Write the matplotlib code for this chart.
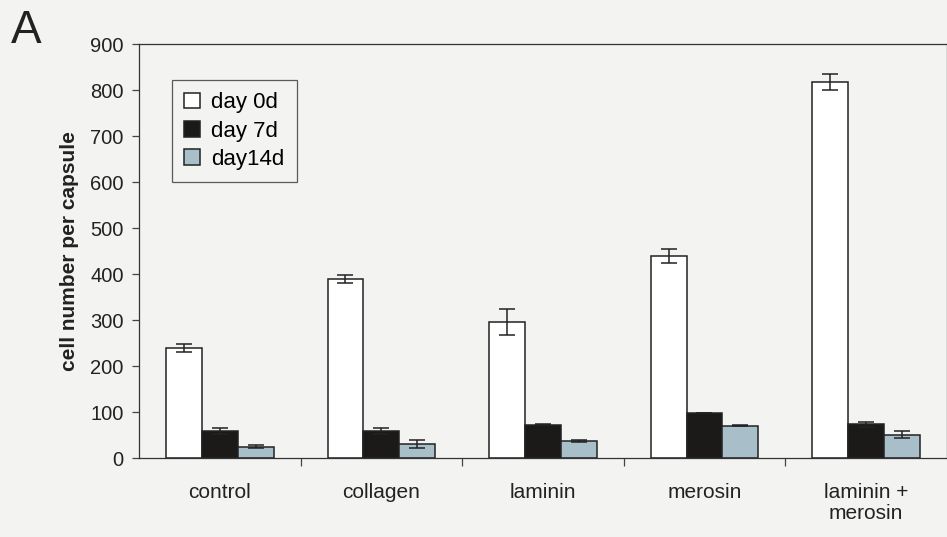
import numpy as np
import matplotlib
matplotlib.use('Agg')
from matplotlib import pyplot as plt

# cell counts per capsule for each coating, three time points
categories = ['control', 'collagen', 'laminin', 'merosin', 'laminin +\nmerosin']
day0 = [239, 389, 296, 439, 817]
day0_err = [9, 9, 28, 15, 17]
day7 = [59, 59, 72, 97, 73]
day7_err = [6, 6, 1, 0, 5]
day14 = [25, 30, 37, 70, 51]
day14_err = [3, 9, 2, 1, 8]
series_labels = ['day 0d', 'day 7d', 'day14d']

BG = '#f3f3f1'
plt.rcParams['font.family'] = ['Liberation Sans', 'DejaVu Sans']

fig = plt.figure(figsize=(9.47, 5.37), dpi=100, facecolor=BG)
ax = fig.add_axes([0.1468, 0.1471, 0.853, 0.7709], facecolor=BG)

x = np.arange(len(categories))
width = 0.222
colors = ['white', '#1c1a18', '#a8bfca']
for k, (vals, errs) in enumerate([(day0, day0_err), (day7, day7_err), (day14, day14_err)]):
    pos = x + (k - 1) * width
    ax.bar(pos, vals, width, color=colors[k], edgecolor='#222222', linewidth=1.1,
           label=series_labels[k], zorder=2)
    ax.errorbar(pos, vals, yerr=errs, fmt='none', ecolor='#222222', elinewidth=1.1,
                capsize=6, capthick=1.1, zorder=3)

ax.set_xlim(-0.5, len(categories) - 0.5)
ax.set_ylim(0, 900)
ax.set_yticks(range(0, 901, 100))
ax.set_xticks(x)
ax.set_xticklabels(categories, fontsize=15, color='#222222', linespacing=1.15)
ax.set_xticks(np.arange(0.5, len(categories) - 0.5, 1), minor=True)
ax.tick_params(axis='x', which='major', length=0, pad=18)
ax.tick_params(axis='x', which='minor', length=6, width=0.9, color='#444444')
ax.tick_params(axis='y', length=5, width=0.9, color='#444444', pad=6,
               labelsize=14.5, labelcolor='#222222')

for side in ['left', 'bottom', 'top', 'right']:
    ax.spines[side].set_color('#333333')
    ax.spines[side].set_linewidth(0.9)

ax.set_ylabel('cell number per capsule', fontsize=15, fontweight='bold',
              color='#222222', labelpad=8)

leg = ax.legend(loc='upper left', bbox_to_anchor=(0.041, 0.913), fontsize=16,
                frameon=True, fancybox=False, handlelength=0.72, handleheight=0.72,
                handletextpad=0.5, labelspacing=0.33, borderpad=0.55, borderaxespad=0)
leg.get_frame().set_edgecolor('#333333')
leg.get_frame().set_facecolor(BG)
leg.get_frame().set_linewidth(0.9)

fig.text(0.011, 1 - 43 / 537, 'A', fontsize=33, color='#222222', va='baseline')

fig.savefig('out.png', dpi=100, facecolor=BG)
